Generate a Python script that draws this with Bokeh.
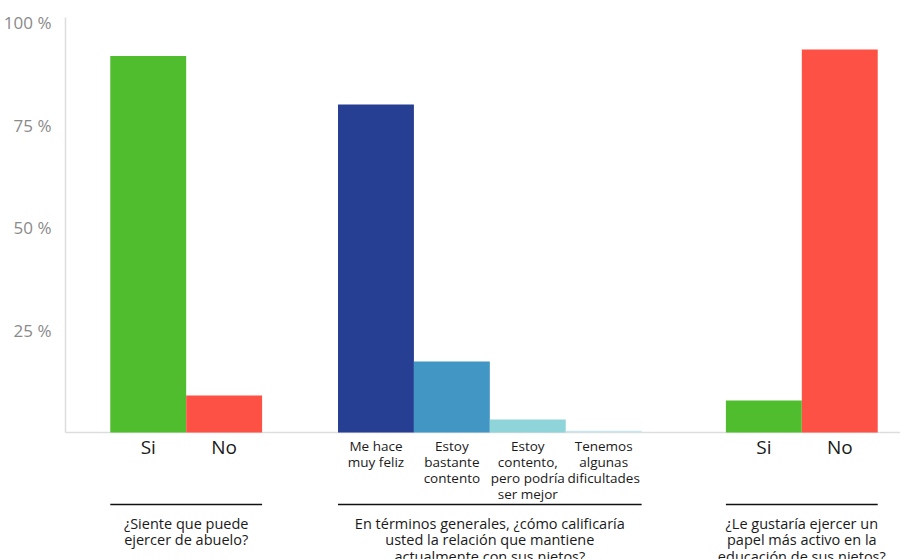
from bokeh.plotting import figure
from bokeh.models import Range1d, FixedTicker
from bokeh.core.properties import value
from bokeh.embed import file_html
from bokeh.resources import INLINE

# ---- data ----
groups = [
    "¿Siente que puede\nejercer de abuelo?",
    "En términos generales, ¿cómo calificaría\nusted la relación que mantiene\nactualmente con sus nietos?",
    "¿Le gustaría ejercer un\npapel más activo en la\neducación de sus nietos?",
]
g1_labels = ["Si", "No"]
g1_values = [91.8, 9.0]
g2_labels = ["Me hace\nmuy feliz", "Estoy\nbastante\ncontento", "Estoy\ncontento,\npero podría\nser mejor", "Tenemos\nalgunas\ndificultades"]
g2_values = [80.0, 17.3, 3.2, 0.4]
g3_labels = ["Si", "No"]
g3_values = [7.8, 93.4]
y_ticks = [25, 50, 75, 100]
y_tick_labels = ["25 %", "50 %", "75 %", "100 %"]

# ---- styling / layout ----
FONT = "Open Sans"
c_green, c_red = "#50bd2f", "#fe5145"
g2_colors = ["#273f93", "#4196c3", "#8fd4d9", "#c9e6ea"]
group_left = [0.59, 3.59, 8.70]
PX = 4.1            # pixels per y unit
X_END = 840 / 76    # axis length in bar widths
Y_AXIS_TOP = 101.2

all_groups = [(g1_labels, g1_values, [c_green, c_red]),
              (g2_labels, g2_values, g2_colors),
              (g3_labels, g3_values, [c_green, c_red])]

xs, tops, cols = [], [], []
big_x, big_t = [], []
small_x, small_t = [], []
span_l, span_r, span_c = [], [], []
for gi, (labs, vals, colors) in enumerate(all_groups):
    for i, (lab, v, c) in enumerate(zip(labs, vals, colors)):
        x = group_left[gi] + 0.5 + i
        xs.append(x); tops.append(v); cols.append(c)
        if "\n" in lab:
            small_x.append(x); small_t.append(lab)
        else:
            big_x.append(x); big_t.append(lab)
    l = group_left[gi]
    r = group_left[gi] + len(labs)
    span_l.append(l); span_r.append(r); span_c.append((l + r) / 2)

p = figure(width=900, height=559, output_backend="svg", toolbar_location=None,
           x_range=Range1d(-7 / 76, (843 - 7) / 76),
           y_range=Range1d(-(559 - 432) / PX, (432 - 12) / PX),
           min_border_left=57, min_border_right=0, min_border_top=12, min_border_bottom=0)
p.outline_line_color = None
p.xgrid.visible = False
p.ygrid.visible = False
p.xaxis.visible = False

# y axis: labels only, line drawn as glyph
p.yaxis.ticker = FixedTicker(ticks=y_ticks)
p.yaxis.major_label_overrides = dict(zip(y_ticks, y_tick_labels))
p.yaxis.major_tick_line_color = None
p.yaxis.minor_tick_line_color = None
p.yaxis.axis_line_color = None
p.yaxis.major_label_text_color = "#8a8a8a"
p.yaxis.major_label_text_font = FONT
p.yaxis.major_label_text_font_size = "17px"
p.yaxis.major_label_standoff = 1

# axis lines
p.segment(x0=[0, 0], y0=[0, 0], x1=[0, X_END], y1=[Y_AXIS_TOP, 0],
          line_color="#dddddd", line_width=1.5)

p.vbar(x=xs, top=tops, width=1.0, color=cols, line_color=None)

p.text(x=big_x, y=[-14 / PX] * len(big_x), text=big_t, text_align="center",
       text_baseline="middle", text_font=value(FONT), text_font_size="19px",
       text_color="#1a1a1a")

p.text(x=small_x, y=[-4 / PX] * len(small_x), text=small_t, text_align="center",
       text_baseline="top", text_font=value(FONT), text_font_size="13.5px",
       text_line_height=0.9, text_color="#1a1a1a")

p.segment(x0=span_l, x1=span_r, y0=[-72 / PX] * 3, y1=[-72 / PX] * 3,
          line_color="#111111", line_width=1.5)

p.text(x=span_c, y=[-81 / PX] * 3, text=groups, text_align="center",
       text_baseline="top", text_font=value(FONT), text_font_size="14.5px",
       text_line_height=0.88, text_color="#1a1a1a")

open("out.html", "w").write(file_html(p, INLINE))
